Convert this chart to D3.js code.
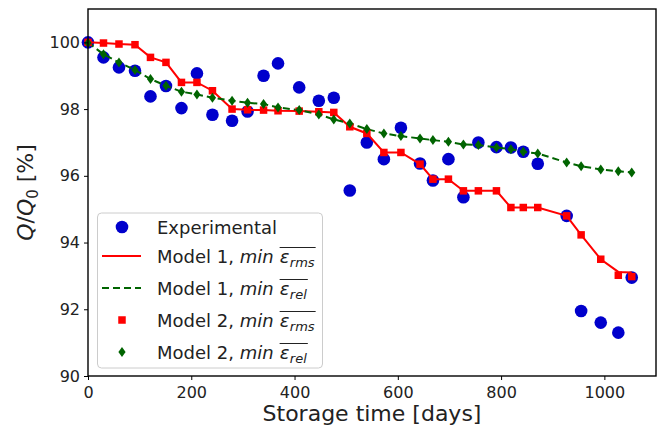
<!DOCTYPE html>
<html>
<head>
<meta charset="utf-8">
<script src="https://cdn.jsdelivr.net/npm/d3@7"></script>
<style>
  body { margin: 0; background: #fff; }
  svg { display: block; font-family: "DejaVu Sans", sans-serif; }
  svg text { white-space: pre; }
</style>
</head>
<body>
<div id="app"></div>
<script>
// storage days (shared by all series)
const days = [0, 30, 60, 91, 121, 151, 181, 211, 241, 279, 309, 340, 368, 409, 447, 476, 507, 540,
  573, 606, 643, 668, 698, 727, 756, 791, 819, 843, 871, 927, 955, 993, 1027, 1053];

const experimental = [100.0, 99.55, 99.25, 99.15, 98.38, 98.69, 98.03, 99.07, 97.83, 97.65, 97.93, 99.0,
  99.37, 98.65, 98.25, 98.34, 95.56, 97.0, 96.5, 97.44, 96.37, 95.86, 96.5, 95.36, 97.0, 96.86,
  96.85, 96.72, 96.36, 94.8, 91.95, 91.6, 91.3, 92.95];

const model1Rms = [100.0, 99.98, 99.95, 99.93, 99.55, 99.4, 98.8, 98.8, 98.55, 98.0, 97.98, 97.97,
  97.95, 97.94, 97.92, 97.9, 97.47, 97.27, 96.7, 96.7, 96.35, 95.9, 95.9, 95.55, 95.55, 95.55,
  95.05, 95.05, 95.05, 94.8, 94.23, 93.5, 93.12, 93.1];

const model1Rel = [100.0, 99.64, 99.4, 99.17, 98.9, 98.7, 98.52, 98.44, 98.34, 98.25, 98.19, 98.15,
  98.05, 97.97, 97.84, 97.69, 97.57, 97.4, 97.27, 97.19, 97.12, 97.07, 97.02, 96.94, 96.92, 96.85,
  96.8, 96.72, 96.67, 96.4, 96.29, 96.19, 96.14, 96.1];

const model2Rms = [100.0, 99.98, 99.95, 99.93, 99.55, 99.4, 98.8, 98.8, 98.55, 98.0, 97.98, 97.97,
  97.95, 97.94, 97.92, 97.9, 97.47, 97.27, 96.7, 96.7, 96.35, 95.9, 95.9, 95.55, 95.55, 95.55,
  95.05, 95.05, 95.05, 94.8, 94.23, 93.5, 93.02, 92.98];

const model2Rel = [99.98, 99.64, 99.4, 99.17, 98.9, 98.7, 98.52, 98.44, 98.34, 98.25, 98.19, 98.15,
  98.05, 97.97, 97.84, 97.69, 97.57, 97.4, 97.27, 97.19, 97.12, 97.07, 97.02, 96.94, 96.92, 96.85,
  96.8, 96.72, 96.67, 96.4, 96.29, 96.19, 96.14, 96.1];

const xTicks = [0, 200, 400, 600, 800, 1000];
const yTicks = [90, 92, 94, 96, 98, 100];

const width = 664, height = 430;
const plot = { left: 88, right: 656, top: 9, bottom: 376 };
const blue = '#0000cc', red = '#ff0000', green = '#006400';
const textColor = '#222';

const x = d3.scaleLinear().domain([0, 1100]).range([plot.left, plot.right]);
const y = d3.scaleLinear().domain([90, 101]).range([plot.bottom, plot.top]);

const svg = d3.select('#app').append('svg')
  .attr('width', width)
  .attr('height', height);

const pts = arr => days.map((d, i) => [d, arr[i]]);
const line = d3.line().x(d => x(d[0])).y(d => y(d[1]));

const g = svg.append('g');

// experimental points
g.selectAll('circle.exp')
  .data(pts(experimental))
  .enter().append('circle')
  .attr('class', 'exp')
  .attr('cx', d => x(d[0]))
  .attr('cy', d => y(d[1]))
  .attr('r', 6.3)
  .attr('fill', blue);

// model 1 lines
g.append('path')
  .datum(pts(model1Rms))
  .attr('d', line)
  .attr('fill', 'none')
  .attr('stroke', red)
  .attr('stroke-width', 2);

g.append('path')
  .datum(pts(model1Rel))
  .attr('d', line)
  .attr('fill', 'none')
  .attr('stroke', green)
  .attr('stroke-width', 2)
  .attr('stroke-dasharray', '7,4');

// model 2 markers
const sq = 7.5;
g.selectAll('rect.m2')
  .data(pts(model2Rms))
  .enter().append('rect')
  .attr('class', 'm2')
  .attr('x', d => x(d[0]) - sq / 2)
  .attr('y', d => y(d[1]) - sq / 2)
  .attr('width', sq)
  .attr('height', sq)
  .attr('fill', red);

const diamond = 'M0,-5L3.6,0L0,5L-3.6,0Z';
g.selectAll('path.m2rel')
  .data(pts(model2Rel))
  .enter().append('path')
  .attr('class', 'm2rel')
  .attr('d', diamond)
  .attr('transform', d => `translate(${x(d[0])},${y(d[1])})`)
  .attr('fill', green);

// axes
const xAxis = svg.append('g')
  .attr('transform', `translate(0,${plot.bottom})`)
  .call(d3.axisBottom(x).tickValues(xTicks).tickFormat(d3.format('d'))
    .tickSize(4).tickPadding(7).tickSizeOuter(0));
const yAxis = svg.append('g')
  .attr('transform', `translate(${plot.left},0)`)
  .call(d3.axisLeft(y).tickValues(yTicks).tickFormat(d3.format('d'))
    .tickSize(4).tickPadding(4).tickSizeOuter(0));

[xAxis, yAxis].forEach(a => {
  a.select('.domain').remove();
  a.selectAll('line').attr('stroke', '#000').attr('stroke-width', 1);
  a.selectAll('text')
    .attr('fill', textColor)
    .style('font-family', '"DejaVu Sans", sans-serif')
    .style('font-size', '16px');
});

// frame
svg.append('rect')
  .attr('x', plot.left)
  .attr('y', plot.top)
  .attr('width', plot.right - plot.left)
  .attr('height', plot.bottom - plot.top)
  .attr('fill', 'none')
  .attr('stroke', '#000')
  .attr('stroke-width', 1.4);

// axis labels
svg.append('text')
  .attr('x', (plot.left + plot.right) / 2)
  .attr('y', 421)
  .attr('text-anchor', 'middle')
  .attr('fill', textColor)
  .style('font-size', '22px')
  .text('Storage time [days]');

const yl = svg.append('text')
  .attr('transform', `translate(33,${(plot.top + plot.bottom) / 2}) rotate(-90)`)
  .attr('text-anchor', 'middle')
  .attr('fill', textColor)
  .style('font-size', '22px');
yl.append('tspan').style('font-style', 'italic').text('Q');
yl.append('tspan').text('/');
yl.append('tspan').style('font-style', 'italic').text('Q');
yl.append('tspan').attr('dy', 5).style('font-size', '15px').text('0');
yl.append('tspan').attr('dy', -5).text(' [%]');

// legend
const legend = svg.append('g');
legend.append('rect')
  .attr('x', 97.5).attr('y', 213)
  .attr('width', 225).attr('height', 155)
  .attr('rx', 4)
  .attr('fill', '#fff').attr('fill-opacity', 0.8)
  .attr('stroke', '#cccccc').attr('stroke-width', 1);

const legendRows = [
  { label: 'Experimental', type: 'circle' },
  { label: 'Model 1, ', sub: 'rms', type: 'line' },
  { label: 'Model 1, ', sub: 'rel', type: 'dash' },
  { label: 'Model 2, ', sub: 'rms', type: 'square' },
  { label: 'Model 2, ', sub: 'rel', type: 'diamond' }
];
const rowY = [227, 256, 288, 320, 352];
const hx0 = 102, hx1 = 141, hxc = 122, tx = 157;

legendRows.forEach((r, i) => {
  const cy = rowY[i];
  if (r.type === 'circle') {
    legend.append('circle').attr('cx', hxc).attr('cy', cy).attr('r', 6.3).attr('fill', blue);
  } else if (r.type === 'line' || r.type === 'dash') {
    legend.append('line')
      .attr('x1', hx0).attr('x2', hx1).attr('y1', cy).attr('y2', cy)
      .attr('stroke', r.type === 'line' ? red : green)
      .attr('stroke-width', 2)
      .attr('stroke-dasharray', r.type === 'dash' ? '7,4' : null);
  } else if (r.type === 'square') {
    legend.append('rect').attr('x', hxc - sq / 2).attr('y', cy - sq / 2)
      .attr('width', sq).attr('height', sq).attr('fill', red);
  } else {
    legend.append('path').attr('d', diamond)
      .attr('transform', `translate(${hxc},${cy})`).attr('fill', green);
  }

  const base = cy + 6.5;
  const t = legend.append('text')
    .attr('x', tx).attr('y', base)
    .attr('fill', textColor)
    .style('font-size', '18px');
  t.append('tspan').text(r.label);
  if (!r.sub) return;
  t.append('tspan').style('font-style', 'italic').text('min');
  const w = t.node().getComputedTextLength() + 6;

  const eps = legend.append('text')
    .attr('x', tx + w).attr('y', base)
    .attr('fill', textColor)
    .style('font-size', '18px')
    .style('font-style', 'italic')
    .text('ε');
  const ew = eps.node().getComputedTextLength();
  const sub = legend.append('text')
    .attr('x', tx + w + ew + 0.5).attr('y', base + 4)
    .attr('fill', textColor)
    .style('font-size', '13px')
    .style('font-style', 'italic')
    .text(r.sub);
  const sw = sub.node().getComputedTextLength();
  legend.append('line')
    .attr('x1', tx + w).attr('x2', tx + w + ew + 0.5 + sw + 1)
    .attr('y1', base - 15).attr('y2', base - 15)
    .attr('stroke', textColor).attr('stroke-width', 1);
});
</script>
</body>
</html>
